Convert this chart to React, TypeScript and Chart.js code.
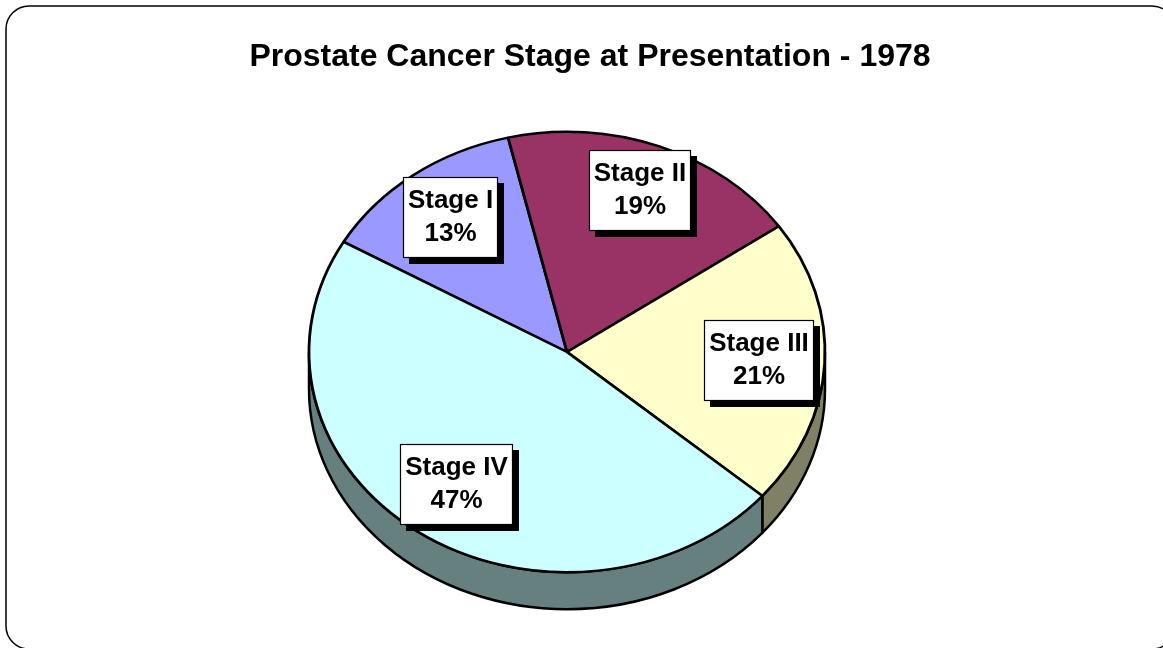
import { useEffect, useRef } from 'react';
import { Chart, registerables } from 'chart.js';

Chart.register(...registerables);

// ---- data ----
const TITLE = 'Prostate Cancer Stage at Presentation - 1978';
const CATEGORIES = ['Stage I', 'Stage II', 'Stage III', 'Stage IV'];
const VALUES = [13, 19, 21, 47];

// ---- styles ----
const TOP_COLORS = ['#9999FF', '#993366', '#FFFFCC', '#CCFFFF'];
const SIDE_COLORS = ['#4D4D80', '#4D1A33', '#808066', '#668080'];
const W = 1163;
const H = 648;
const CX = 567;
const CY = 352;
const RADIUS = 258;
const TILT = 0.8537;
const DEPTH = 37;
const FONT = '"Liberation Sans", Arial, Helvetica, sans-serif';
const LABEL_RADIUS = [0.76, 0.785, 0.745, 0.74];

const pie3d = {
  id: 'pie3d',
  beforeDraw(chart: any) {
    const ctx: CanvasRenderingContext2D = chart.ctx;
    ctx.save();
    ctx.fillStyle = '#fff';
    ctx.fillRect(0, 0, W, H);
    // frame
    ctx.beginPath();
    (ctx as any).roundRect(6, 6, 1169, 643, 23);
    ctx.strokeStyle = '#000';
    ctx.lineWidth = 1.5;
    ctx.stroke();
    // title
    ctx.fillStyle = '#000';
    ctx.font = `bold 32px ${FONT}`;
    ctx.textAlign = 'center';
    ctx.textBaseline = 'middle';
    ctx.fillText(TITLE, 590, 57);
    ctx.restore();
  },
  beforeDatasetsDraw(chart: any) {
    const ctx: CanvasRenderingContext2D = chart.ctx;
    const meta = chart.getDatasetMeta(0);
    ctx.save();
    ctx.lineJoin = 'round';
    meta.data.forEach((arc: any, i: number) => {
      const { x, y, startAngle, endAngle, outerRadius } = arc.getProps(
        ['x', 'y', 'startAngle', 'endAngle', 'outerRadius'],
        true
      );
      const rx = outerRadius;
      const ry = outerRadius * TILT;
      for (const shift of [-2 * Math.PI, 0, 2 * Math.PI]) {
        const a = Math.max(startAngle, shift);
        const b = Math.min(endAngle, shift + Math.PI);
        if (b <= a) continue;
        ctx.beginPath();
        ctx.ellipse(x, y, rx, ry, 0, a, b);
        ctx.lineTo(x + rx * Math.cos(b), y + ry * Math.sin(b) + DEPTH);
        ctx.ellipse(x, y + DEPTH, rx, ry, 0, b, a, true);
        ctx.closePath();
        ctx.fillStyle = SIDE_COLORS[i];
        ctx.fill();
        ctx.strokeStyle = '#000';
        ctx.lineWidth = 2.5;
        ctx.stroke();
      }
    });
    ctx.restore();
    const cy = meta.data[0].y;
    ctx.save();
    ctx.translate(0, cy);
    ctx.scale(1, TILT);
    ctx.translate(0, -cy);
  },
  afterDatasetsDraw(chart: any) {
    const ctx: CanvasRenderingContext2D = chart.ctx;
    ctx.restore();
    const meta = chart.getDatasetMeta(0);
    ctx.save();
    ctx.font = `bold 26px ${FONT}`;
    meta.data.forEach((arc: any, i: number) => {
      const { x, y, startAngle, endAngle, outerRadius } = arc.getProps(
        ['x', 'y', 'startAngle', 'endAngle', 'outerRadius'],
        true
      );
      const lines = [CATEGORIES[i], `${VALUES[i]}%`];
      const tw = Math.max(...lines.map((l) => ctx.measureText(l).width));
      const bw = Math.round(tw + 10);
      const bh = 81;
      const mid = (startAngle + endAngle) / 2;
      const r = outerRadius * LABEL_RADIUS[i];
      const lx = x + r * Math.cos(mid);
      const ly = y + r * Math.sin(mid) * TILT;
      const bx = Math.round(lx - bw / 2);
      const by = Math.round(ly - bh / 2);
      ctx.fillStyle = '#000';
      ctx.fillRect(bx + 6, by + 6, bw, bh);
      ctx.fillStyle = '#fff';
      ctx.fillRect(bx, by, bw, bh);
      ctx.strokeStyle = '#000';
      ctx.lineWidth = 1.2;
      ctx.strokeRect(bx + 0.5, by + 0.5, bw - 1, bh - 1);
      ctx.fillStyle = '#000';
      ctx.textAlign = 'center';
      ctx.textBaseline = 'middle';
      ctx.fillText(lines[0], bx + bw / 2, by + bh / 2 - 16.5);
      ctx.fillText(lines[1], bx + bw / 2, by + bh / 2 + 16.5);
    });
    ctx.restore();
  },
};

export default function App() {
  const ref = useRef<HTMLCanvasElement | null>(null);
  useEffect(() => {
    document.body.style.margin = '0';
    if (!ref.current) return;
    const chart = new Chart(ref.current, {
      type: 'pie',
      data: {
        labels: CATEGORIES,
        datasets: [
          {
            data: VALUES,
            backgroundColor: TOP_COLORS,
            borderColor: '#000',
            borderWidth: 2.8,
            clip: false,
          } as any,
        ],
      },
      options: {
        responsive: false,
        animation: false,
        events: [],
        rotation: -60,
        radius: RADIUS,
        layout: {
          padding: { left: 0, right: W - 2 * CX, top: 2 * CY - H, bottom: 0 },
        },
        plugins: {
          legend: { display: false },
          title: { display: false },
          tooltip: { enabled: false },
        },
      } as any,
      plugins: [pie3d as any],
    });
    return () => chart.destroy();
  }, []);
  return (
    <div style={{ width: W, height: H }}>
      <canvas ref={ref} width={W} height={H} style={{ display: 'block' }} />
    </div>
  );
}
